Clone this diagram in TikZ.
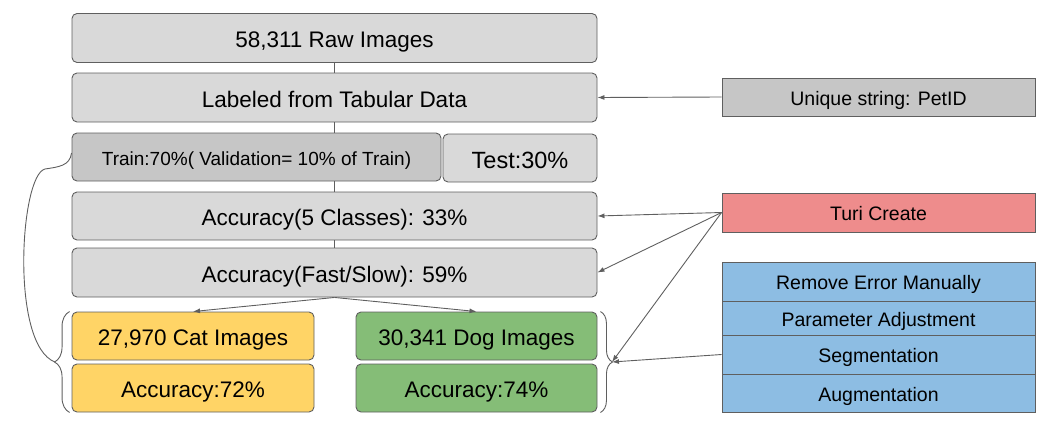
\documentclass[tikz,border=0pt]{standalone}
\usepackage{fontspec}
\setmainfont{Liberation Sans}
\usetikzlibrary{arrows.meta,decorations.pathreplacing}

\definecolor{boxgray}{HTML}{D9D9D9}
\definecolor{traingray}{HTML}{C6C6C6}
\definecolor{turired}{HTML}{EE8C8C}
\definecolor{catyellow}{HTML}{FFD466}
\definecolor{doggreen}{HTML}{85BD77}
\definecolor{stepblue}{HTML}{8DBDE3}
\definecolor{edgegray}{HTML}{5F5F5F}

\newcommand{\mainfs}{\fontsize{22.5}{27}\selectfont}
\newcommand{\sidefs}{\fontsize{19.5}{23}\selectfont}
\newcommand{\trainfs}{\fontsize{19}{23}\selectfont}
\newcommand{\testfs}{\fontsize{23.5}{28}\selectfont}

\begin{document}
\begin{tikzpicture}[x=1pt, y=-1pt,
    flowbox/.style={draw=edgegray, line width=0.9pt, rounded corners=5pt, fill=boxgray,
        inner sep=0pt, minimum height=48pt, font=\mainfs, text height=19pt, text depth=0pt},
    sidebox/.style={draw=edgegray, line width=0.9pt, inner sep=0pt, minimum width=313pt,
        font=\sidefs, text height=16pt, text depth=0pt},
    link/.style={draw=edgegray, line width=0.9pt},
    feed/.style={link, -{Latex[length=7pt,width=5pt]}}]
    \useasboundingbox (0,0) rectangle (1040,423);

    % main flow
    \node[flowbox, minimum width=525pt, minimum height=49pt] (raw) at (334.5,38) {58,311 Raw Images};
    \node[flowbox, minimum width=525pt, minimum height=49pt] (lab) at (334.5,97.5) {Labeled from Tabular Data};
    \node[flowbox, fill=traingray, minimum width=369pt, font=\trainfs, text height=16pt] (train) at (256.5,157) {Train:70\%( Validation= 10\% of Train)};
    \node[flowbox, minimum width=154pt, font=\testfs, text height=20pt] (test) at (520,158) {Test:30\%};
    \node[flowbox, minimum width=525pt] (acc5) at (334.5,216) {Accuracy(5 Classes): 33\%};
    \node[flowbox, minimum width=525pt, minimum height=49pt] (accfs) at (334.5,272.5) {Accuracy(Fast/Slow): 59\%};
    \node[flowbox, fill=catyellow, minimum width=242pt] (cat) at (193,336) {27,970 Cat Images};
    \node[flowbox, fill=catyellow, minimum width=242pt] (catacc) at (193,388) {Accuracy:72\%};
    \node[flowbox, fill=doggreen, minimum width=241pt] (dog) at (476.5,336) {30,341 Dog Images};
    \node[flowbox, fill=doggreen, minimum width=241pt] (dogacc) at (476.5,388) {Accuracy:74\%};

    % side boxes
    \node[sidebox, fill=traingray, minimum height=38pt] (uniq) at (878.5,97) {Unique string: PetID};
    \node[sidebox, fill=turired, minimum height=39pt] (turi) at (878.5,212.5) {Turi Create};
    \node[sidebox, fill=stepblue, minimum height=39pt] (remove) at (878.5,281.5) {Remove Error Manually};
    \node[sidebox, fill=stepblue, minimum height=34pt] (param) at (878.5,318) {Parameter Adjustment};
    \node[sidebox, fill=stepblue, minimum height=39pt] (segm) at (878.5,354.5) {Segmentation};
    \node[sidebox, fill=stepblue, minimum height=38pt] (augm) at (878.5,393) {Augmentation};

    % braces
    \draw[link, decorate, decoration={brace, amplitude=12pt}]
        ([xshift=3pt]dog.north east) -- ([xshift=3pt]dogacc.south east);
    \draw[link, decorate, decoration={brace, amplitude=15pt}]
        ([xshift=-2pt]catacc.south west) -- ([xshift=-2pt]cat.north west);
    \coordinate (rtip) at (612,362);
    \coordinate (ltip) at (55,362);

    % connectors
    \draw[link] (raw.south) -- (lab.north);
    \draw[link] (lab.south) -- (lab.south |- train.north);
    \draw[link] (acc5.north |- train.south) -- (acc5.north);
    \draw[link] (acc5.south) -- (accfs.north);
    \draw[feed] (accfs.south) -- (cat.north);
    \draw[feed] (accfs.south) -- (dog.north);
    \draw[feed] (uniq.west) -- (lab.east);
    \draw[feed] (turi.west) -- (acc5.east);
    \draw[feed] (turi.west) -- (accfs.east);
    \draw[feed] (turi.west) -- (rtip);
    \draw[feed] (segm.west) -- (rtip);
    \draw[link] ([yshift=4pt]train.west) .. controls (70,166) and (58,167) .. (45,169)
        .. controls (20,175) and (10,345) .. (ltip);
\end{tikzpicture}
\end{document}
